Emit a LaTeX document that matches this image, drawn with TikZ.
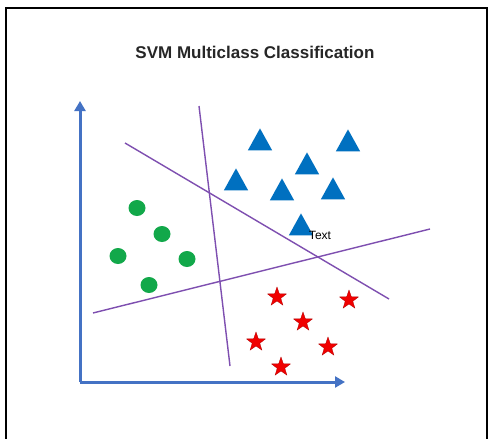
\documentclass[tikz,border=0pt]{standalone}
\usepackage{fontspec}
\setmainfont{Liberation Sans}
\usetikzlibrary{shapes.geometric,arrows.meta}
\definecolor{axisblue}{HTML}{4472C4}
\definecolor{tri}{HTML}{0070C0}
\definecolor{sep}{HTML}{7E4FB0}
\definecolor{dot}{HTML}{12A84A}
\definecolor{starred}{HTML}{F00000}
\tikzset{
  axis/.style={draw=axisblue, line width=3pt, -{Triangle[length=10pt,width=11pt]}},
  sepline/.style={draw=sep, line width=1.4pt},
  dotnode/.style={ellipse, fill=dot, minimum width=17pt, minimum height=16pt, inner sep=0pt},
  trinode/.style={isosceles triangle, isosceles triangle apex angle=58, shape border rotate=90, fill=tri, minimum height=22pt, inner sep=0pt},
  starnode/.style={star, star points=5, star point ratio=2.5, fill=starred, draw=red!70!black, line width=0.3pt, minimum size=20pt, inner sep=0pt},
  frameline/.style={draw=black, line width=1.4pt}
}
\begin{document}
\begin{tikzpicture}[x=1pt,y=-1pt]
\useasboundingbox (0,0) rectangle (493,439);
\fill[white] (0,0) rectangle (493,439);
% frame
\coordinate (fbl) at (6,439);
\coordinate (ftl) at (6,8);
\coordinate (ftr) at (487,8);
\coordinate (fbr) at (487,439);
\draw[frameline] (fbl) -- (ftl) -- (ftr) -- (fbr);
% title
\node[font=\fontsize{17}{20}\selectfont\bfseries, text=black!85] (title) at (255,52) {SVM Multiclass Classification};
% separating lines
\coordinate (s1a) at (199,106); \coordinate (s1b) at (230,366);
\coordinate (s2a) at (125,143); \coordinate (s2b) at (389,299);
\coordinate (s3a) at (93,313);  \coordinate (s3b) at (430,229);
\draw[sepline] (s1a) -- (s1b);
\draw[sepline] (s2a) -- (s2b);
\draw[sepline] (s3a) -- (s3b);
% axes
\coordinate (origin) at (80,382);
\coordinate (ytip) at (80,101);
\coordinate (xtip) at (345,382);
\draw[axis] (origin) -- (ytip);
\draw[axis] (origin) -- (xtip);
% green dots
\node[dotnode] (g1) at (137,208) {};
\node[dotnode] (g2) at (162,234) {};
\node[dotnode] (g3) at (118,256) {};
\node[dotnode] (g4) at (187,259) {};
\node[dotnode] (g5) at (149,285) {};
% blue triangles (anchor at apex)
\node[trinode, anchor=apex] (t1) at (260,128) {};
\node[trinode, anchor=apex] (t2) at (348,129) {};
\node[trinode, anchor=apex] (t3) at (307,152) {};
\node[trinode, anchor=apex] (t4) at (236,168) {};
\node[trinode, anchor=apex] (t5) at (282,178) {};
\node[trinode, anchor=apex] (t6) at (333,177) {};
\node[trinode, anchor=apex] (t7) at (301,213) {};
% label
\node[font=\fontsize{12}{14}\selectfont, text=black, inner sep=0pt] (lbl) at (320,235) {Text};
% red stars
\node[starnode] (r1) at (277,297) {};
\node[starnode] (r2) at (349,300) {};
\node[starnode] (r3) at (303,322) {};
\node[starnode] (r4) at (256,342) {};
\node[starnode] (r5) at (328,347) {};
\node[starnode] (r6) at (281,367) {};
\end{tikzpicture}
\end{document}
